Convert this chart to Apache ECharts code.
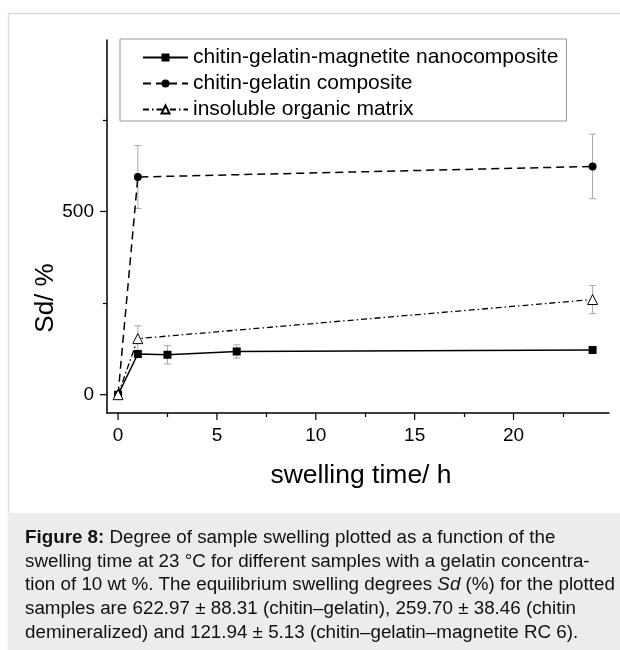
<!DOCTYPE html>
<html>
<head>
<meta charset="utf-8">
<script src="https://cdn.jsdelivr.net/npm/echarts@6/dist/echarts.min.js"></script>
<style>
html, body { margin: 0; padding: 0; background: #fff; }
#chart { width: 620px; height: 650px; }
</style>
</head>
<body>
<div id="chart"></div>
<script>
// series names as in the legend
var seriesNames = ['chitin-gelatin-magnetite nanocomposite', 'chitin-gelatin composite', 'insoluble organic matrix'];

// swelling time (h) / Sd (%) / error
var nanoX = [0, 1, 2.5, 6, 24];
var nanoY = [0, 111, 109, 118, 121.94];
var nanoErr = [0, 10, 25, 18, 5.13];

var compX = [0, 1, 24];
var compY = [0, 594, 622.97];
var compErr = [0, 86, 88.31];

var matrixX = [0, 1, 24];
var matrixY = [0, 153, 259.70];
var matrixErr = [0, 35, 38.46];

var xTicks = [0, 5, 10, 15, 20];
var xMinorTicks = [2.5, 7.5, 12.5, 17.5, 22.5];
var yTicks = [0, 500];
var yMinorTicks = [250, 750];

var font = '"Liberation Sans", Arial, sans-serif';
var xRange = [-0.56, 24.83];
var yRange = [-50, 968];

function pairs(xs, ys) {
    return xs.map(function (x, i) { return [x, ys[i]]; });
}

function errorBars(xs, ys, errs) {
    var rows = [];
    xs.forEach(function (x, i) {
        if (errs[i] > 0) rows.push([x, ys[i] - errs[i], ys[i] + errs[i]]);
    });
    return {
        type: 'custom',
        silent: true,
        z: 1,
        data: rows,
        encode: { x: 0, y: [1, 2] },
        renderItem: function (params, api) {
            var lo = api.coord([api.value(0), api.value(1)]);
            var hi = api.coord([api.value(0), api.value(2)]);
            var c = 3.5;
            var st = { stroke: '#a8a8a8', lineWidth: 1 };
            return {
                type: 'group',
                children: [
                    { type: 'line', shape: { x1: lo[0], y1: lo[1], x2: hi[0], y2: hi[1] }, style: st },
                    { type: 'line', shape: { x1: lo[0] - c, y1: lo[1], x2: lo[0] + c, y2: lo[1] }, style: st },
                    { type: 'line', shape: { x1: hi[0] - c, y1: hi[1], x2: hi[0] + c, y2: hi[1] }, style: st }
                ]
            };
        }
    };
}

// major ticks: axis ticks on labelled values don't show up in this build,
// so draw them as a small custom series placed by the axis scales
function majorTicks(values, dim, len) {
    var rows = values.map(function (v) {
        return dim === 'x' ? [v, yRange[0]] : [xRange[0], v];
    });
    return {
        type: 'custom',
        silent: true,
        clip: false,
        z: 2,
        data: rows,
        encode: { x: 0, y: 1 },
        renderItem: function (params, api) {
            var p = api.coord([api.value(0), api.value(1)]);
            var end = dim === 'x' ? [p[0], p[1] + len] : [p[0] - len, p[1]];
            return {
                type: 'line',
                shape: { x1: p[0], y1: p[1], x2: end[0], y2: end[1] },
                style: { stroke: '#000', lineWidth: 1.2 }
            };
        }
    };
}

// an extra axis that only draws the short minor ticks
function tickAxis(range, pos, values, len) {
    return {
        type: 'value',
        min: range[0],
        max: range[1],
        position: pos,
        splitLine: { show: false },
        axisLine: { show: false, onZero: false },
        axisTick: { show: true, customValues: values, length: len, lineStyle: { color: '#000', width: 1.2 } },
        axisLabel: { show: false }
    };
}

// the main axis: line and labels
function mainAxis(range, pos, labels) {
    return {
        type: 'value',
        min: range[0],
        max: range[1],
        position: pos,
        splitLine: { show: false },
        axisLine: { show: true, onZero: false, lineStyle: { color: '#000', width: 1.5 } },
        axisTick: { show: false },
        axisLabel: { customValues: labels, margin: 13, fontSize: 19, fontFamily: font, color: '#000' }
    };
}

var myChart = echarts.init(document.getElementById('chart'));

var option = {
    animation: false,
    backgroundColor: '#fff',
    grid: { left: 107, right: 11, top: 40, bottom: 237 },
    legend: {
        orient: 'vertical',
        left: 120,
        top: 39,
        padding: [8, 8, 1, 22],
        itemGap: 5,
        itemWidth: 45,
        itemHeight: 10,
        borderColor: '#999',
        borderWidth: 1,
        textStyle: { fontSize: 21, fontFamily: font, color: '#000' },
        data: seriesNames
    },
    xAxis: [
        mainAxis(xRange, 'bottom', xTicks),
        tickAxis(xRange, 'bottom', xMinorTicks, 4)
    ],
    yAxis: [
        mainAxis(yRange, 'left', yTicks),
        tickAxis(yRange, 'left', yMinorTicks, 4)
    ],
    series: [
        majorTicks(xTicks, 'x', 7),
        majorTicks(yTicks, 'y', 7),
        errorBars(nanoX, nanoY, nanoErr),
        errorBars(compX, compY, compErr),
        errorBars(matrixX, matrixY, matrixErr),
        {
            name: seriesNames[0],
            type: 'line',
            z: 3,
            data: pairs(nanoX, nanoY),
            symbol: 'rect',
            symbolSize: 8,
            showAllSymbol: true,
            itemStyle: { color: '#000' },
            lineStyle: { color: '#000', width: 1.5, type: 'solid' }
        },
        {
            name: seriesNames[1],
            type: 'line',
            z: 3,
            data: pairs(compX, compY),
            symbol: 'circle',
            symbolSize: 8,
            itemStyle: { color: '#000' },
            lineStyle: { color: '#000', width: 1.5, type: [8, 5] }
        },
        {
            name: seriesNames[2],
            type: 'line',
            z: 3,
            data: pairs(matrixX, matrixY),
            symbol: 'triangle',
            symbolSize: 10,
            itemStyle: { color: '#fff', borderColor: '#000', borderWidth: 1 },
            lineStyle: { color: '#000', width: 1.3, type: [6, 3, 1.5, 3] }
        }
    ],
    graphic: [
        {
            type: 'rect', z: -10, silent: true,
            shape: { x: 8.5, y: 13.5, width: 640, height: 700 },
            style: { fill: 'none', stroke: '#dcdcdc', lineWidth: 1.5 }
        },
        {
            type: 'rect', z: -9, silent: true,
            shape: { x: 8, y: 513, width: 620, height: 140 },
            style: { fill: '#ececec' }
        },
        {
            type: 'text', silent: true,
            x: 46, y: 298, rotation: Math.PI / 2,
            style: { text: 'Sd/ %', font: '26px ' + font, fill: '#000', align: 'center', verticalAlign: 'middle' }
        },
        {
            type: 'text', silent: true,
            x: 361, y: 476,
            style: { text: 'swelling time/ h', font: '26.5px ' + font, fill: '#000', align: 'center', verticalAlign: 'middle' }
        },
        {
            type: 'text', silent: true,
            x: 25, y: 526,
            style: {
                text: '{b|Figure 8:} Degree of sample swelling plotted as a function of the\n' +
                      'swelling time at 23 °C for different samples with a gelatin concentra-\n' +
                      'tion of 10 wt %. The equilibrium swelling degrees {i|Sd} (%) for the plotted\n' +
                      'samples are 622.97 ± 88.31 (chitin–gelatin), 259.70 ± 38.46 (chitin\n' +
                      'demineralized) and 121.94 ± 5.13 (chitin–gelatin–magnetite RC 6).',
                font: '18.8px ' + font,
                fill: '#111',
                lineHeight: 23.7,
                verticalAlign: 'top',
                rich: {
                    b: { fontWeight: 'bold', fontSize: 18.8, fontFamily: font, fill: '#111', lineHeight: 23.7 },
                    i: { fontStyle: 'italic', fontSize: 18.8, fontFamily: font, fill: '#111', lineHeight: 23.7 }
                }
            }
        }
    ]
};

myChart.setOption(option);
</script>
</body>
</html>
